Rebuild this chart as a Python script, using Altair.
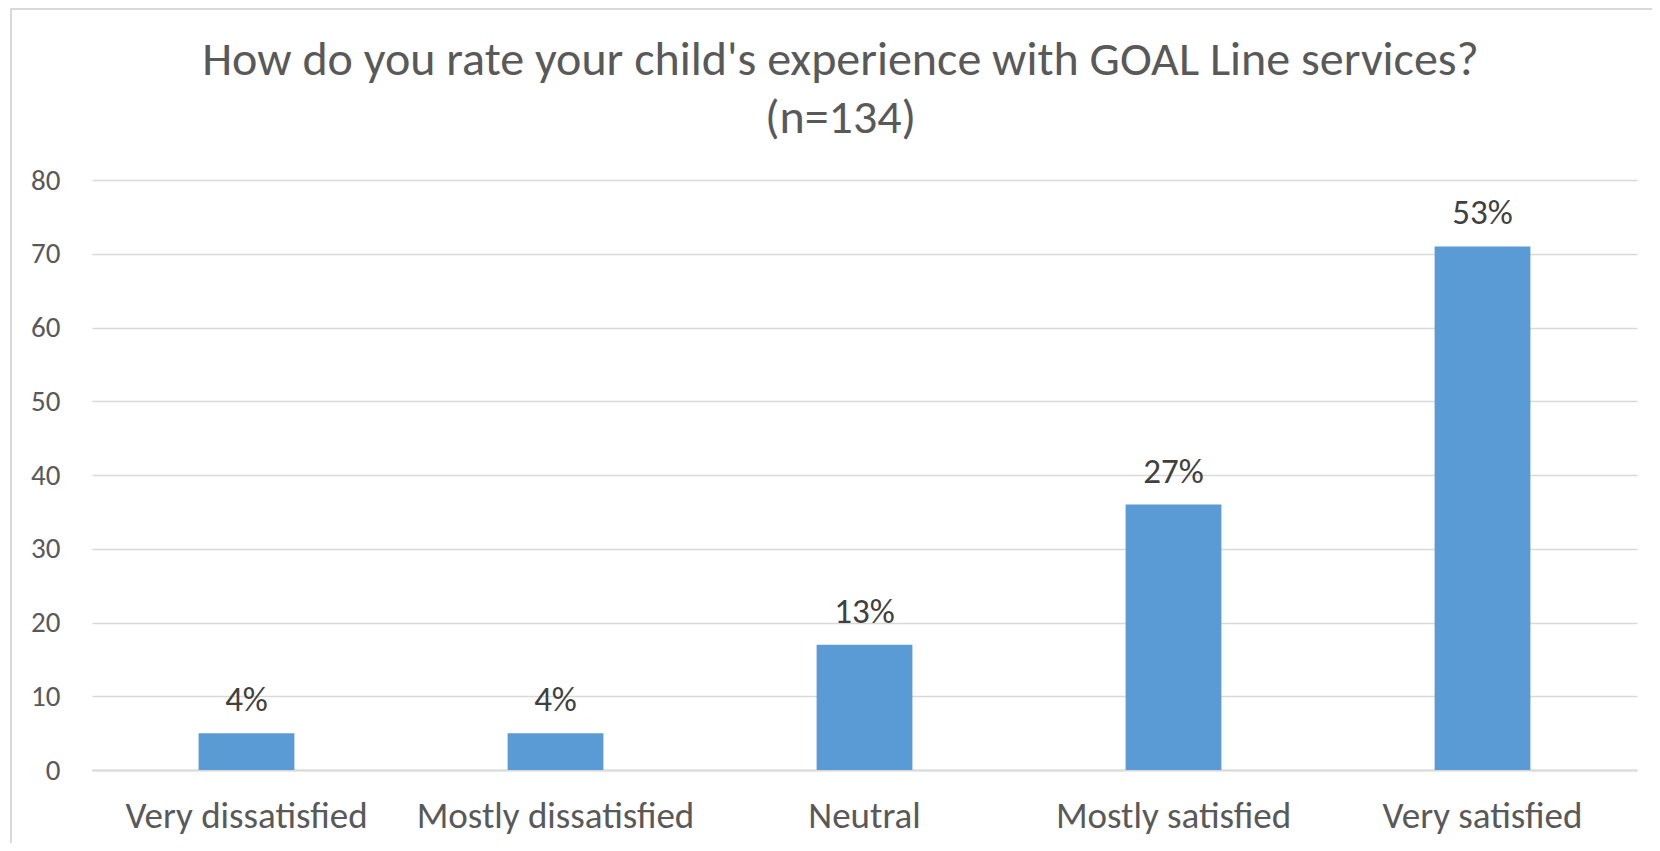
import altair as alt
import pandas as pd

categories = ["Very dissatisfied", "Mostly dissatisfied", "Neutral", "Mostly satisfied", "Very satisfied"]
counts = [5, 5, 17, 36, 71]
pct_labels = ["4%", "4%", "13%", "27%", "53%"]

df = pd.DataFrame({"category": categories, "count": counts, "label": pct_labels})

FONT = "Carlito, Lato, sans-serif"
GRID = "#d9d9d9"

x = alt.X("category:N", sort=categories, title=None,
          scale=alt.Scale(paddingInner=0.69, paddingOuter=0.345),
          axis=alt.Axis(labelAngle=0, labelFont=FONT, labelFontSize=37, labelColor="#595959",
                        labelLimit=0, ticks=False, tickSize=0, labelPadding=57, labelBaseline="alphabetic",
                        domainColor=GRID, domainWidth=2, grid=False))
y = alt.Y("count:Q", title=None,
          scale=alt.Scale(domain=[0, 80], nice=False),
          axis=alt.Axis(values=[0, 10, 20, 30, 40, 50, 60, 70, 80], labelFont=FONT, labelFontSize=29,
                        labelColor="#595959", ticks=False, tickSize=0, labelPadding=32, domain=False,
                        gridColor=GRID, gridWidth=1.4))

bars = alt.Chart(df).mark_bar(color="#5B9BD5").encode(x=x, y=y)
text = alt.Chart(df).mark_text(font=FONT, fontSize=35, color="#404040", baseline="alphabetic", dy=-22).encode(
    x=alt.X("category:N", sort=categories), y="count:Q", text="label:N")

frame_df = pd.DataFrame({"k": [0]})
left_border = alt.Chart(frame_df).mark_rule(color=GRID, strokeWidth=2).encode(
    x=alt.value(-81), y=alt.value(-172), y2=alt.value(690))
top_border = alt.Chart(frame_df).mark_rule(color=GRID, strokeWidth=2).encode(
    x=alt.value(-81), x2=alt.value(1600), y=alt.value(-171))

chart = (bars + text + left_border + top_border).properties(
    width=1545, height=590,
    background="white",
    padding={"left": 84, "top": 172, "right": 15, "bottom": 73},
    autosize=alt.AutoSizeParams(type="none"),
    title=alt.TitleParams(["How do you rate your child's experience with GOAL Line services?", "(n=134)"],
                          font=FONT, fontSize=48, fontWeight="normal", color="#595959",
                          anchor="middle", frame="group", lineHeight=58, offset=-136, dx=-24),
).configure_view(stroke="transparent", strokeWidth=0)

chart.save("out.html", embed_options={"renderer": "svg", "actions": False})
